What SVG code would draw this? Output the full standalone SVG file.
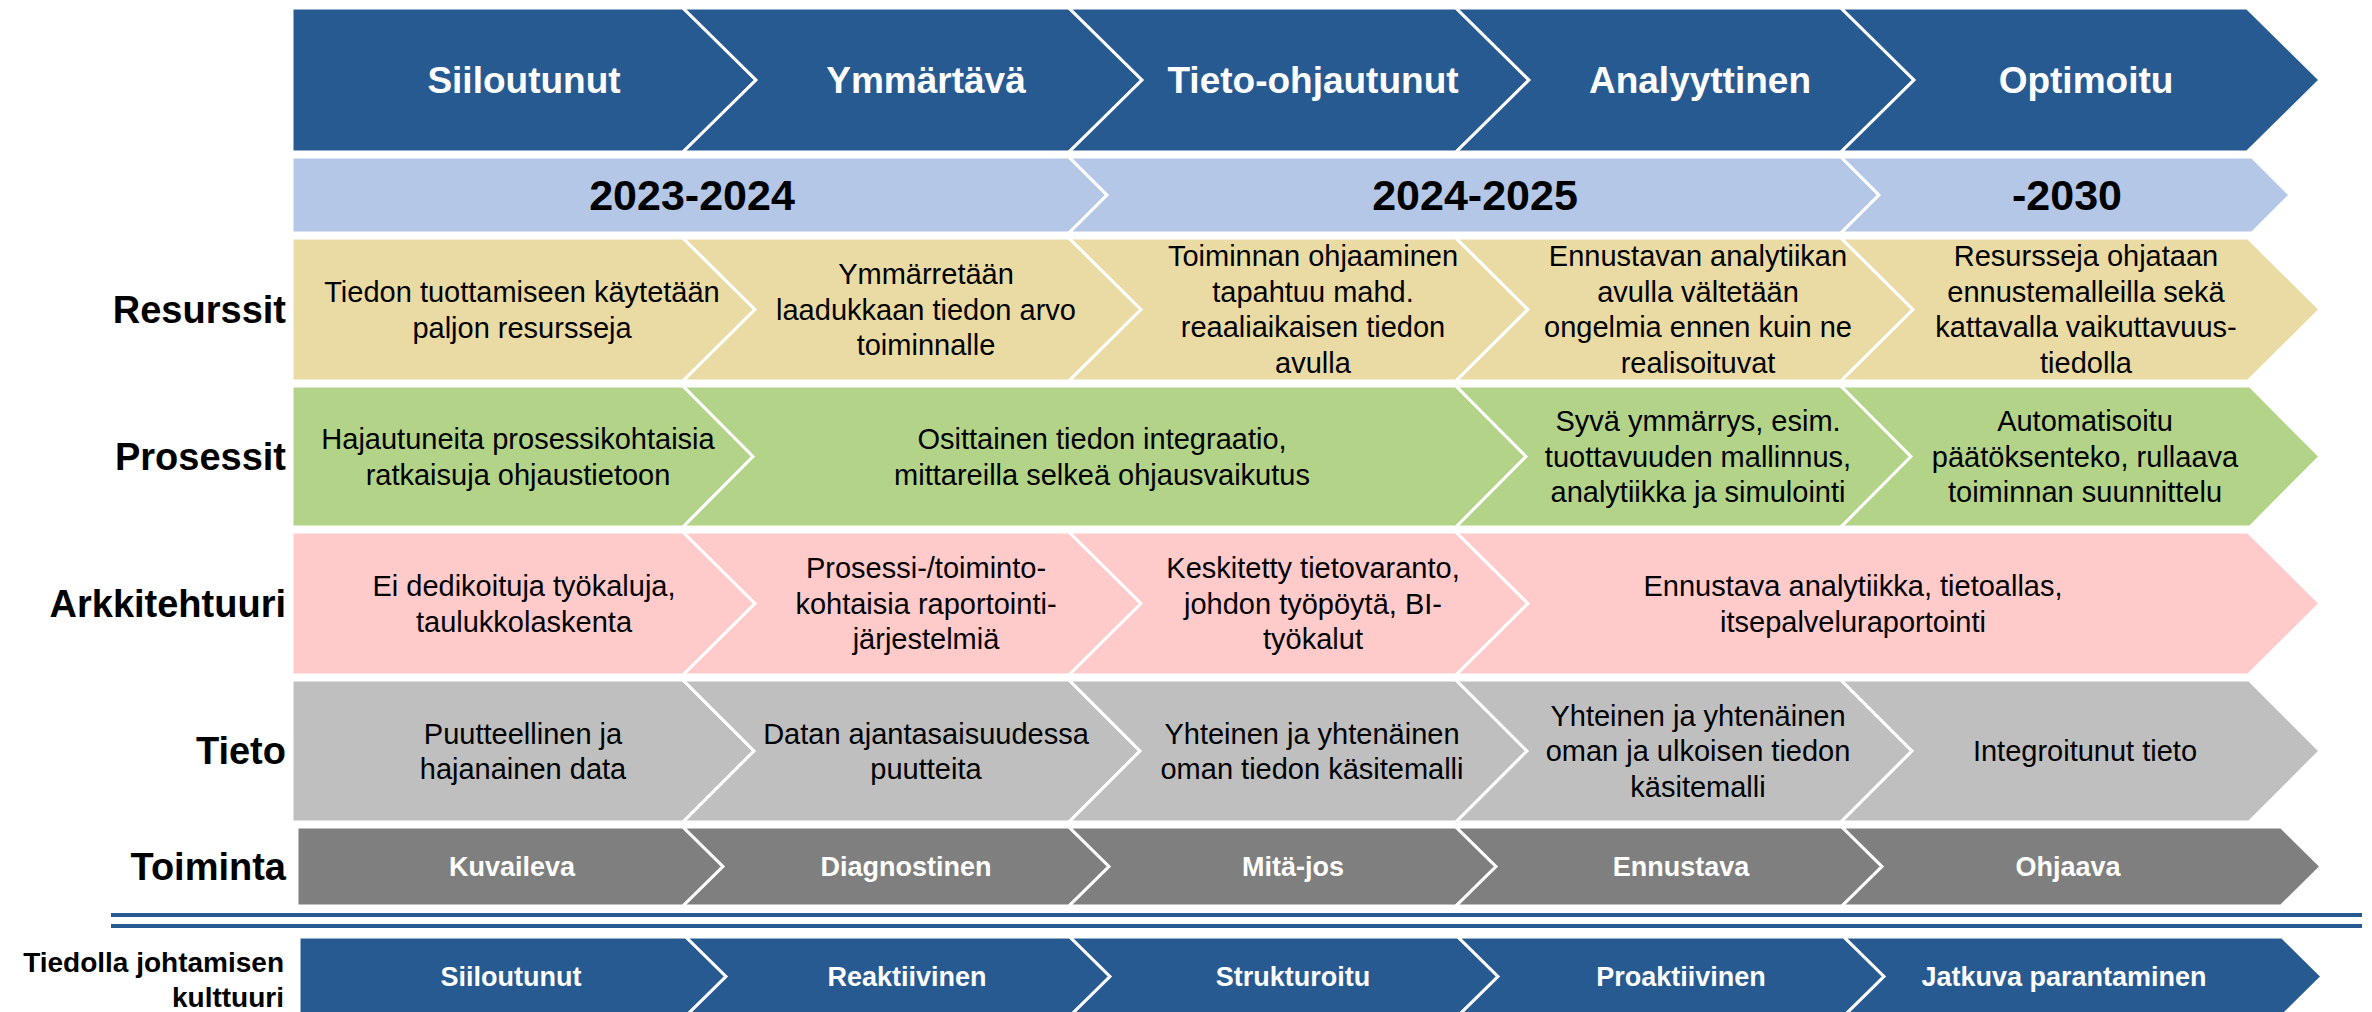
<svg xmlns="http://www.w3.org/2000/svg" width="2372" height="1012" viewBox="0 0 2372 1012">
<style>
.seg{stroke:#fff;stroke-width:3;stroke-linejoin:miter}
.db{fill:#285A92}.lb{fill:#B4C7E7}.tan{fill:#EADAA3}.gr{fill:#B2D388}.pk{fill:#FFCACA}.gy{fill:#BFBFBF}.dg{fill:#7F7F7F}
text{font-family:"Liberation Sans",Arial,sans-serif}
.t{font-size:29px;fill:#000;text-anchor:middle}
.h{font-size:37px;font-weight:bold;fill:#fff;text-anchor:middle}
.y{font-size:43px;font-weight:bold;fill:#000;text-anchor:middle}
.s{font-size:27px;font-weight:bold;fill:#fff;text-anchor:middle}
.lab{font-size:38px;font-weight:bold;fill:#000;text-anchor:end}
.lab2{font-size:28px;font-weight:bold;fill:#000;text-anchor:end}
.sep{fill:#285A92}
</style>
<rect width="2372" height="1012" fill="#fff"/>

<g id="row-labels">
<text class="lab" x="286" y="323">Resurssit</text>
<text class="lab" x="286" y="470">Prosessit</text>
<text class="lab" x="286" y="617">Arkkitehtuuri</text>
<text class="lab" x="286" y="764">Tieto</text>
<text class="lab" x="286" y="880">Toiminta</text>
<text class="lab2" x="284" y="972">Tiedolla johtamisen</text>
<text class="lab2" x="284" y="1007">kulttuuri</text>
</g>

<!-- Row 1: maturity stages -->
<g id="stage-1"><path class="seg db" d="M292,8 L683,8 L756,80 L683,152 L292,152 Z"/><text class="h" x="524" y="93">Siiloutunut</text></g>
<g id="stage-2"><path class="seg db" d="M683,8 L1069,8 L1142,80 L1069,152 L683,152 L756,80 Z"/><text class="h" x="926" y="93">Ymmärtävä</text></g>
<g id="stage-3"><path class="seg db" d="M1069,8 L1456,8 L1529,80 L1456,152 L1069,152 L1142,80 Z"/><text class="h" x="1313" y="93">Tieto-ohjautunut</text></g>
<g id="stage-4"><path class="seg db" d="M1456,8 L1841,8 L1914,80 L1841,152 L1456,152 L1529,80 Z"/><text class="h" x="1700" y="93">Analyyttinen</text></g>
<g id="stage-5"><path class="seg db" d="M1841,8 L2247,8 L2320,80 L2247,152 L1841,152 L1914,80 Z"/><text class="h" x="2086" y="93">Optimoitu</text></g>

<!-- Row 2: years -->
<g id="year-1"><path class="seg lb" d="M292,157 L1069,157 L1107,195 L1069,233 L292,233 Z"/><text class="y" x="692" y="210">2023-2024</text></g>
<g id="year-2"><path class="seg lb" d="M1069,157 L1841,157 L1879,195 L1841,233 L1069,233 L1107,195 Z"/><text class="y" x="1475" y="210">2024-2025</text></g>
<g id="year-3"><path class="seg lb" d="M1841,157 L2252,157 L2290,195 L2252,233 L1841,233 L1879,195 Z"/><text class="y" x="2067" y="210">-2030</text></g>

<!-- Row 3: Resurssit -->
<g id="res-1"><path class="seg tan" d="M292,238 L683,238 L755,309.5 L683,381 L292,381 Z"/>
<text class="t"><tspan x="522" y="302">Tiedon tuottamiseen käytetään</tspan><tspan x="522" y="337.5">paljon resursseja</tspan></text></g>
<g id="res-2"><path class="seg tan" d="M683,238 L1069,238 L1141,309.5 L1069,381 L683,381 L755,309.5 Z"/>
<text class="t"><tspan x="926" y="284">Ymmärretään</tspan><tspan x="926" y="319.5">laadukkaan tiedon arvo</tspan><tspan x="926" y="355">toiminnalle</tspan></text></g>
<g id="res-3"><path class="seg tan" d="M1069,238 L1456,238 L1528,309.5 L1456,381 L1069,381 L1141,309.5 Z"/>
<text class="t"><tspan x="1313" y="266">Toiminnan ohjaaminen</tspan><tspan x="1313" y="301.5">tapahtuu mahd.</tspan><tspan x="1313" y="337">reaaliaikaisen tiedon</tspan><tspan x="1313" y="372.5">avulla</tspan></text></g>
<g id="res-4"><path class="seg tan" d="M1456,238 L1841,238 L1913,309.5 L1841,381 L1456,381 L1528,309.5 Z"/>
<text class="t"><tspan x="1698" y="266">Ennustavan analytiikan</tspan><tspan x="1698" y="301.5">avulla vältetään</tspan><tspan x="1698" y="337">ongelmia ennen kuin ne</tspan><tspan x="1698" y="372.5">realisoituvat</tspan></text></g>
<g id="res-5"><path class="seg tan" d="M1841,238 L2248,238 L2320,309.5 L2248,381 L1841,381 L1913,309.5 Z"/>
<text class="t"><tspan x="2086" y="266">Resursseja ohjataan</tspan><tspan x="2086" y="301.5">ennustemalleilla sekä</tspan><tspan x="2086" y="337">kattavalla vaikuttavuus-</tspan><tspan x="2086" y="372.5">tiedolla</tspan></text></g>

<!-- Row 4: Prosessit -->
<g id="pro-1"><path class="seg gr" d="M292,386 L683,386 L753,456.5 L683,527 L292,527 Z"/>
<text class="t"><tspan x="518" y="449">Hajautuneita prosessikohtaisia</tspan><tspan x="518" y="484.5">ratkaisuja ohjaustietoon</tspan></text></g>
<g id="pro-2"><path class="seg gr" d="M683,386 L1456,386 L1526,456.5 L1456,527 L683,527 L753,456.5 Z"/>
<text class="t"><tspan x="1102" y="449">Osittainen tiedon integraatio,</tspan><tspan x="1102" y="484.5">mittareilla selkeä ohjausvaikutus</tspan></text></g>
<g id="pro-3"><path class="seg gr" d="M1456,386 L1841,386 L1911,456.5 L1841,527 L1456,527 L1526,456.5 Z"/>
<text class="t"><tspan x="1698" y="431">Syvä ymmärrys, esim.</tspan><tspan x="1698" y="466.5">tuottavuuden mallinnus,</tspan><tspan x="1698" y="502">analytiikka ja simulointi</tspan></text></g>
<g id="pro-4"><path class="seg gr" d="M1841,386 L2250,386 L2320,456.5 L2250,527 L1841,527 L1911,456.5 Z"/>
<text class="t"><tspan x="2085" y="431">Automatisoitu</tspan><tspan x="2085" y="466.5">päätöksenteko, rullaava</tspan><tspan x="2085" y="502">toiminnan suunnittelu</tspan></text></g>

<!-- Row 5: Arkkitehtuuri -->
<g id="ark-1"><path class="seg pk" d="M292,532 L683,532 L755,603.5 L683,675 L292,675 Z"/>
<text class="t"><tspan x="524" y="596">Ei dedikoituja työkaluja,</tspan><tspan x="524" y="631.5">taulukkolaskenta</tspan></text></g>
<g id="ark-2"><path class="seg pk" d="M683,532 L1069,532 L1141,603.5 L1069,675 L683,675 L755,603.5 Z"/>
<text class="t"><tspan x="926" y="578">Prosessi-/toiminto-</tspan><tspan x="926" y="613.5">kohtaisia raportointi-</tspan><tspan x="926" y="649">järjestelmiä</tspan></text></g>
<g id="ark-3"><path class="seg pk" d="M1069,532 L1456,532 L1528,603.5 L1456,675 L1069,675 L1141,603.5 Z"/>
<text class="t"><tspan x="1313" y="578">Keskitetty tietovaranto,</tspan><tspan x="1313" y="613.5">johdon työpöytä, BI-</tspan><tspan x="1313" y="649">työkalut</tspan></text></g>
<g id="ark-4"><path class="seg pk" d="M1456,532 L2248,532 L2320,603.5 L2248,675 L1456,675 L1528,603.5 Z"/>
<text class="t"><tspan x="1853" y="596">Ennustava analytiikka, tietoallas,</tspan><tspan x="1853" y="631.5">itsepalveluraportointi</tspan></text></g>

<!-- Row 6: Tieto -->
<g id="tie-1"><path class="seg gy" d="M292,680 L683,680 L754,751 L683,822 L292,822 Z"/>
<text class="t"><tspan x="523" y="743.5">Puutteellinen ja</tspan><tspan x="523" y="779">hajanainen data</tspan></text></g>
<g id="tie-2"><path class="seg gy" d="M683,680 L1069,680 L1140,751 L1069,822 L683,822 L754,751 Z"/>
<text class="t"><tspan x="926" y="743.5">Datan ajantasaisuudessa</tspan><tspan x="926" y="779">puutteita</tspan></text></g>
<g id="tie-3"><path class="seg gy" d="M1069,680 L1456,680 L1527,751 L1456,822 L1069,822 L1140,751 Z"/>
<text class="t"><tspan x="1312" y="743.5">Yhteinen ja yhtenäinen</tspan><tspan x="1312" y="779">oman tiedon käsitemalli</tspan></text></g>
<g id="tie-4"><path class="seg gy" d="M1456,680 L1841,680 L1912,751 L1841,822 L1456,822 L1527,751 Z"/>
<text class="t"><tspan x="1698" y="725.5">Yhteinen ja yhtenäinen</tspan><tspan x="1698" y="761">oman ja ulkoisen tiedon</tspan><tspan x="1698" y="796.5">käsitemalli</tspan></text></g>
<g id="tie-5"><path class="seg gy" d="M1841,680 L2249,680 L2320,751 L2249,822 L1841,822 L1912,751 Z"/>
<text class="t" x="2085" y="761">Integroitunut tieto</text></g>

<!-- Row 7: Toiminta -->
<g id="toi-1"><path class="seg dg" d="M297,827 L683,827 L723,866.5 L683,906 L297,906 Z"/><text class="s" x="512" y="876">Kuvaileva</text></g>
<g id="toi-2"><path class="seg dg" d="M683,827 L1069,827 L1109,866.5 L1069,906 L683,906 L723,866.5 Z"/><text class="s" x="906" y="876">Diagnostinen</text></g>
<g id="toi-3"><path class="seg dg" d="M1069,827 L1456,827 L1496,866.5 L1456,906 L1069,906 L1109,866.5 Z"/><text class="s" x="1293" y="876">Mitä-jos</text></g>
<g id="toi-4"><path class="seg dg" d="M1456,827 L1842,827 L1882,866.5 L1842,906 L1456,906 L1496,866.5 Z"/><text class="s" x="1681" y="876">Ennustava</text></g>
<g id="toi-5"><path class="seg dg" d="M1842,827 L2281,827 L2321,866.5 L2281,906 L1842,906 L1882,866.5 Z"/><text class="s" x="2068" y="876">Ohjaava</text></g>

<!-- Separator double line -->
<g id="separator">
<rect class="sep" x="111" y="913" width="2251" height="4"/>
<rect class="sep" x="111" y="924" width="2251" height="4"/>
</g>

<!-- Row 8: Tiedolla johtamisen kulttuuri -->
<g id="kul-1"><path class="seg db" d="M299,937 L686,937 L726,976.5 L686,1016 L299,1016 Z"/><text class="s" x="511" y="986">Siiloutunut</text></g>
<g id="kul-2"><path class="seg db" d="M686,937 L1070,937 L1110,976.5 L1070,1016 L686,1016 L726,976.5 Z"/><text class="s" x="907" y="986">Reaktiivinen</text></g>
<g id="kul-3"><path class="seg db" d="M1070,937 L1458,937 L1498,976.5 L1458,1016 L1070,1016 L1110,976.5 Z"/><text class="s" x="1293" y="986">Strukturoitu</text></g>
<g id="kul-4"><path class="seg db" d="M1458,937 L1844,937 L1884,976.5 L1844,1016 L1458,1016 L1498,976.5 Z"/><text class="s" x="1681" y="986">Proaktiivinen</text></g>
<g id="kul-5"><path class="seg db" d="M1844,937 L2282,937 L2322,976.5 L2282,1016 L1844,1016 L1884,976.5 Z"/><text class="s" x="2064" y="986">Jatkuva parantaminen</text></g>
</svg>
